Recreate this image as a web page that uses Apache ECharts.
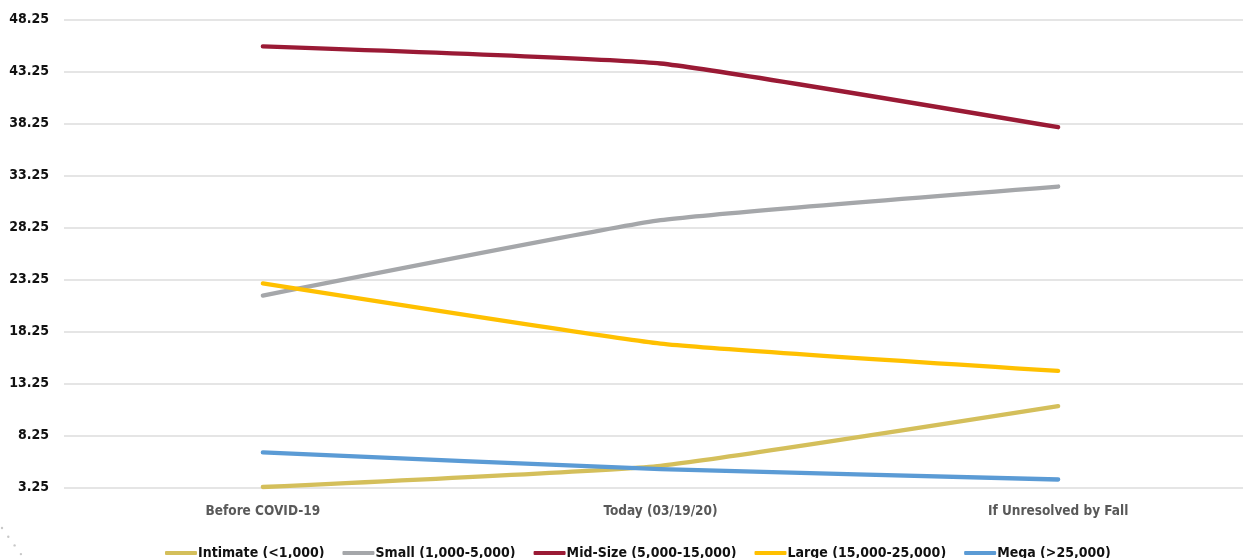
<!DOCTYPE html>
<html>
<head>
<meta charset="utf-8">
<script src="https://cdn.jsdelivr.net/npm/echarts@6/dist/echarts.min.js"></script>
<style>
  html, body { margin: 0; padding: 0; background: #ffffff; }
  #chart { width: 1243px; height: 558px; }
</style>
</head>
<body>
<div id="chart"></div>
<script>
// Scenario labels along the x axis
const categories = ['Before COVID-19', 'Today (03/19/20)', 'If Unresolved by Fall'];

// Venue size groups (legend names)
const seriesNames = [
  'Intimate (<1,000)',
  'Small (1,000-5,000)',
  'Mid-Size (5,000-15,000)',
  'Large (15,000-25,000)',
  'Mega (>25,000)'
];

// Values per venue group, one per scenario
const intimate = [3.3, 5.34, 11.07];
const small = [21.7, 28.95, 32.19];
const midSize = [45.67, 44.02, 37.89];
const large = [22.88, 17.09, 14.46];
const mega = [6.62, 5.02, 4.02];

// Value axis range and step
const yMin = 3.25;
const yMax = 48.25;
const yStep = 5;

const colors = ['#D4BF5B', '#A5A7AA', '#9A1A35', '#FFC000', '#5B9BD5'];
const seriesData = [intimate, small, midSize, large, mega];

const font = '"DejaVu Sans Condensed", "Liberation Sans Narrow", sans-serif';

const chart = echarts.init(document.getElementById('chart'), null, { renderer: 'canvas' });

chart.setOption({
  animation: false,
  backgroundColor: '#ffffff',
  color: colors,
  grid: { left: 64, width: 1193, top: 19.5, bottom: 70.5, containLabel: false, outerBoundsMode: 'none' },
  legend: {
    top: 541,
    left: 160,
    itemWidth: 32,
    itemHeight: 4,
    itemGap: 18,
    icon: 'roundRect',
    data: seriesNames,
    textStyle: { fontFamily: font, fontWeight: 'bold', fontSize: 14, color: '#111111', padding: [0, 0, 0, -4] }
  },
  xAxis: {
    type: 'category',
    data: categories,
    boundaryGap: true,
    axisLine: { show: false },
    axisTick: { show: false },
    axisLabel: { fontFamily: font, fontWeight: 'bold', fontSize: 13.5, color: '#595959', margin: 17 }
  },
  yAxis: {
    type: 'value',
    min: yMin,
    max: yMax,
    interval: yStep,
    axisLine: { show: false },
    axisTick: { show: false },
    splitLine: { lineStyle: { color: '#dcdcdc', width: 1.5 } },
    axisLabel: {
      fontFamily: font, fontWeight: 'bold', fontSize: 14, color: '#111111', margin: 15,
      formatter: v => v.toFixed(2)
    }
  },
  series: seriesNames.map((name, i) => ({
    name: name,
    type: 'line',
    data: seriesData[i],
    smooth: 0.12,
    symbol: 'none',
    lineStyle: { width: 4.3, color: colors[i], cap: 'round', join: 'round' },
    itemStyle: { color: colors[i] }
  })),
  graphic: [0, 1, 2, 3].map(k => ({
    type: 'circle',
    shape: { cx: 2 + k * 6.3, cy: 528 + k * 8.7, r: 1.2 },
    style: { fill: '#c8c8c8' },
    silent: true
  }))
});
</script>
</body>
</html>
